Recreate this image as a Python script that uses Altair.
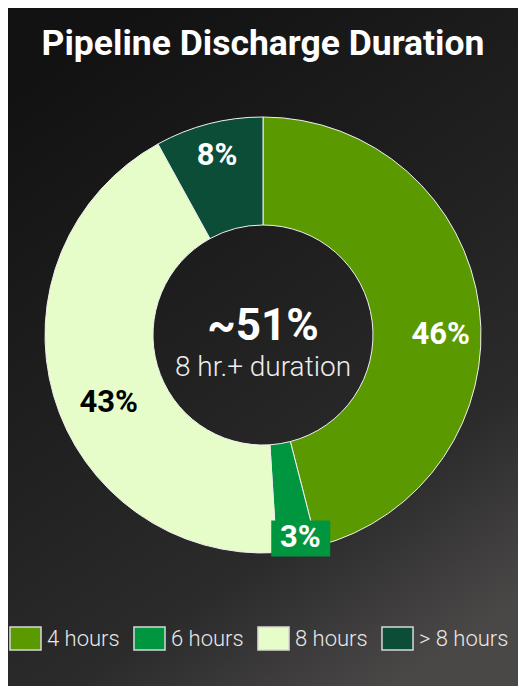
import altair as alt
import pandas as pd

# ---- data ----
categories = ["4 hours", "6 hours", "8 hours", "> 8 hours"]
values = [46, 3, 43, 8]
long_categories = ["8 hours", "> 8 hours"]
title_text = "Pipeline Discharge Duration"
center_caption = "8 hr.+ duration"

# ---- styles / layout ----
colors = ["#5a9a00", "#00963f", "#e6fdca", "#0c4d37"]
W, H = 510, 678
CX, CY = 255, 327
R_OUT, R_IN = 218, 110
R_LAB_BIG, R_LAB_MID, R_LAB_SMALL = 170, 185, 206
FONT = "Roboto"

df = pd.DataFrame({"category": categories, "value": values, "idx": list(range(len(categories)))})
df["label"] = df["value"].astype(str) + "%"

color_scale = alt.Scale(domain=categories, range=colors)
legend = alt.Legend(
    title=None, orient="none", legendX=5, legendY=618, direction="horizontal",
    symbolType="M-1.35,-1L1.35,-1L1.35,1L-1.35,1Z", symbolSize=529,
    symbolStrokeColor="#d8d8d8", symbolStrokeWidth=1.5, symbolOpacity=1,
    labelColor="#e8e8e8", labelFont=FONT, labelFontSize=22, labelFontWeight=300,
    labelOffset=9, columnPadding=10, padding=0,
)

gradient = alt.LinearGradient(
    gradient="linear", x1=0.25, y1=0, x2=0.75, y2=1,
    stops=[
        alt.GradientStop(offset=0, color="#121212"),
        alt.GradientStop(offset=0.25, color="#1a1a1a"),
        alt.GradientStop(offset=0.5, color="#222222"),
        alt.GradientStop(offset=0.75, color="#2b2b2b"),
        alt.GradientStop(offset=1, color="#4a4747"),
    ],
)

bg = (
    alt.Chart(pd.DataFrame({"t": [title_text]}))
    .mark_rect(fill=gradient, strokeWidth=0)
    .encode(x=alt.value(0), x2=alt.value(W), y=alt.value(0), y2=alt.value(H))
)

base = alt.Chart(df).encode(
    theta=alt.Theta("value:Q", stack=True),
    order=alt.Order("idx:Q", sort="ascending"),
    x=alt.value(CX),
    y=alt.value(CY),
)

arcs = base.mark_arc(radius=R_OUT, radius2=R_IN, stroke="#f0f0f0", strokeWidth=1).encode(
    color=alt.Color("category:N", scale=color_scale, sort=categories, legend=legend),
)

big_labels = base.mark_text(radius=R_LAB_BIG, dx=9, dy=21, font=FONT, fontWeight="bold", fontSize=31).encode(
    detail="category:N",
    text=alt.condition(alt.datum.value >= 20, alt.Text("label:N"), alt.value("")),
    color=alt.condition(alt.datum.category == "8 hours", alt.value("#000000"), alt.value("#ffffff")),
)

mid_labels = base.mark_text(radius=R_LAB_MID, font=FONT, fontWeight="bold", fontSize=31, color="#ffffff").encode(
    detail="category:N",
    text=alt.condition((alt.datum.value >= 5) & (alt.datum.value < 20), alt.Text("label:N"), alt.value("")),
)

small_labels = base.mark_text(radius=R_LAB_SMALL, dx=5, font=FONT, fontWeight="bold", fontSize=31, color="#ffffff").encode(
    detail="category:N",
    text=alt.condition(alt.datum.value < 5, alt.Text("label:N"), alt.value("")),
)

box = (
    alt.Chart(df)
    .transform_stack(stack="value", as_=["v0", "v1"], groupby=[], sort=[alt.SortField("idx", order="ascending")])
    .transform_joinaggregate(total="sum(value)")
    .transform_calculate(ang="PI * (datum.v0 + datum.v1) / datum.total")
    .transform_calculate(
        cx=f"{CX} + 5 + {R_LAB_SMALL} * sin(datum.ang)",
        cy=f"{CY} - {R_LAB_SMALL} * cos(datum.ang)",
    )
    .transform_calculate(
        bx1="datum.cx - 29", bx2="datum.cx + 30", by1="datum.cy - 18", by2="datum.cy + 18"
    )
    .transform_filter(alt.datum.value < 5)
    .mark_rect(color=colors[1])
    .encode(
        x=alt.X("bx1:Q", scale=None), x2="bx2:Q",
        y=alt.Y("by1:Q", scale=None), y2="by2:Q",
    )
)

center_value = (
    alt.Chart(df)
    .transform_filter(alt.FieldOneOfPredicate(field="category", oneOf=long_categories))
    .transform_aggregate(total="sum(value)")
    .transform_calculate(txt="'~' + datum.total + '%'")
    .mark_text(font=FONT, fontWeight="bold", fontSize=44, color="#ffffff", baseline="alphabetic")
    .encode(text="txt:N", x=alt.value(CX), y=alt.value(332))
)

caption = (
    alt.Chart(pd.DataFrame({"t": [center_caption]}))
    .mark_text(font=FONT, fontWeight=300, fontSize=28, color="#eeeeee", baseline="alphabetic")
    .encode(text="t:N", x=alt.value(CX), y=alt.value(368))
)

title = (
    alt.Chart(pd.DataFrame({"t": [title_text]}))
    .mark_text(font=FONT, fontWeight="bold", fontSize=35.5, color="#ffffff", baseline="alphabetic")
    .encode(text="t:N", x=alt.value(CX), y=alt.value(47))
)

chart = (
    alt.layer(bg, arcs, box, big_labels, mid_labels, small_labels, center_value, caption, title)
    .properties(width=W, height=H, autosize=alt.AutoSizeParams(type="none"), padding=0, background="#121212")
    .configure_view(strokeWidth=0)
)

chart.save("out.html", embed_options={"renderer": "svg", "actions": False})
